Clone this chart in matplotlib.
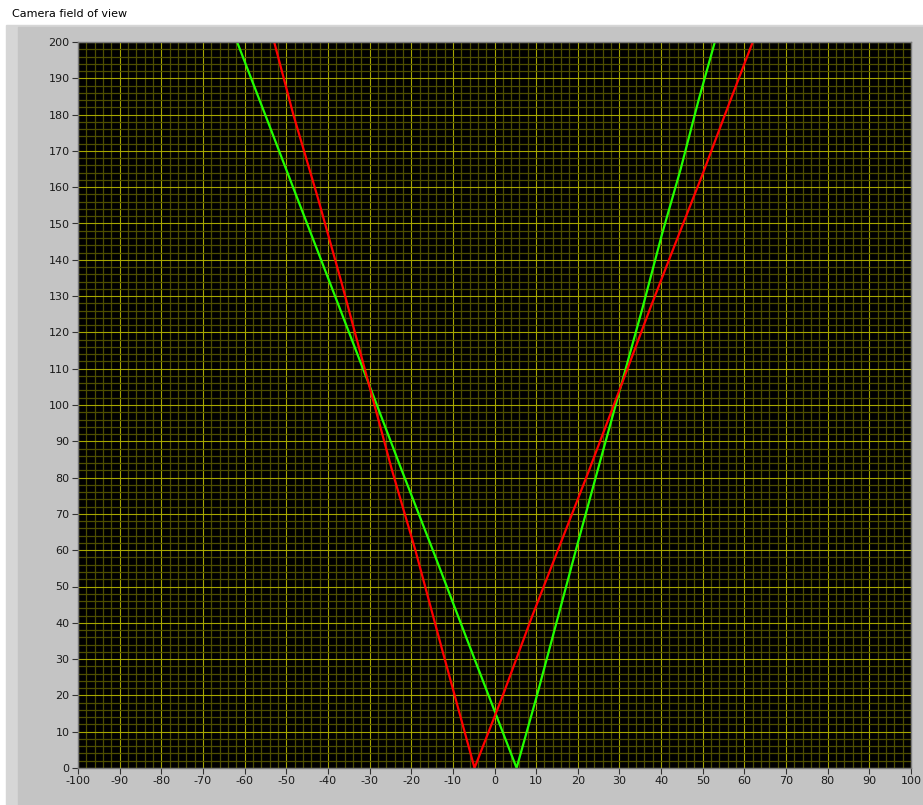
import matplotlib
matplotlib.use("Agg")
import matplotlib.pyplot as plt
from matplotlib.patches import Rectangle
from matplotlib.ticker import MultipleLocator

plt.rcParams['axes.unicode_minus'] = False

# camera field of view - two cameras, each a V shape (x in cm, y = distance)
red_x = [-52.9, -48.3, -42.4, -36.8, -30.0, -24.6, -19.0, -12.9, -4.8,
         2.0, 9.1, 15.9, 22.7, 30.3, 37.5, 43.6, 50.1, 56.0, 62.0]
red_y = [200, 180, 157, 134, 105, 82, 60, 34, 0,
         20, 42, 62, 82, 105, 127, 145, 164, 182, 200]

green_x = [-61.8, -55.4, -47.7, -40.3, -29.9, -22.6, -14.8, -6.8, 5.3,
           10.2, 15.1, 20.0, 25.0, 30.3, 35.6, 40.2, 44.7, 49.0, 52.9]
green_y = [200, 181, 158, 136, 105, 83, 60, 36, 0,
           20, 41, 62, 83, 105, 127, 147, 165, 184, 200]

W, H = 923, 805
fig = plt.figure(figsize=(W / 100, H / 100), dpi=100, facecolor="white")

# LabVIEW style gray panel behind the graph
fig.patches.append(Rectangle((6 / W, 0), (W - 6) / W, 1 - 25 / H,
                             transform=fig.transFigure, color="#d6d6d6", zorder=-10))
fig.patches.append(Rectangle((18 / W, 0), (W - 18) / W, 1 - 27 / H,
                             transform=fig.transFigure, color="#c4c4c4", zorder=-9))
fig.text(12 / W, 1 - 14 / H, "Camera field of view", fontsize=8,
         ha="left", va="center", color="black")

ax = fig.add_axes([78 / W, 1 - 768 / H, (911 - 78) / W, (768 - 42) / H])
ax.set_facecolor("black")

ax.set_xlim(-100, 100)
ax.set_ylim(0, 200)
ax.xaxis.set_major_locator(MultipleLocator(10))
ax.yaxis.set_major_locator(MultipleLocator(10))
ax.xaxis.set_minor_locator(MultipleLocator(2))
ax.yaxis.set_minor_locator(MultipleLocator(2))

ax.grid(which="minor", color="#4e4e00", linewidth=0.9)
ax.grid(which="major", color="#a6a600", linewidth=0.8)
ax.set_axisbelow(True)

ax.plot(green_x, green_y, color="#22ff00", linewidth=1.6)
ax.plot(red_x, red_y, color="#ff0000", linewidth=1.6)

ax.tick_params(which="major", direction="out", length=4, width=0.8,
               color="#333333", labelsize=8, labelcolor="#1a1a1a", pad=2)
ax.tick_params(which="minor", length=0)
for s in ax.spines.values():
    s.set_color("#7a7a7a")
    s.set_linewidth(1)

plt.savefig("out.png", dpi=100, facecolor=fig.get_facecolor())
